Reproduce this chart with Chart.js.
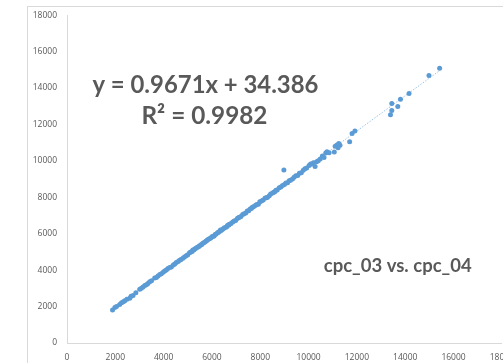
<!DOCTYPE html>
<html>
<head>
<meta charset="utf-8">
<script src="https://cdn.jsdelivr.net/npm/chart.js@4.4.1/dist/chart.umd.min.js"></script>
<style>
  html, body { margin: 0; padding: 0; background: #fff; overflow: hidden; }
  #wrap { position: relative; width: 503px; height: 363px; overflow: hidden; }
  #frame { position: absolute; left: 27px; top: 6px; width: 600px; height: 400px; border: 1px solid #d9d9d9; }
  #chart { position: absolute; left: 0; top: 0; }
</style>
</head>
<body>
<div id="wrap">
  <div id="frame"></div>
  <canvas id="chart" width="523" height="363"></canvas>
</div>
<script>
// ── Data ──────────────────────────────────────────
const cpc03 = [
  1885, 1980, 2050, 2180, 2256, 2330, 2392, 2480, 2598, 2650, 2734, 2850, 3011, 3080, 3147, 3220, 3287, 3350, 3423, 3500,
  3629, 3700, 3765, 3840, 3905, 3980, 4042, 4110, 4178, 4250, 4318, 4400, 4460, 4524, 4600, 4660, 4720, 4796, 4860, 4936,
  5000, 5073, 5120, 5180, 5209, 5260, 5300, 5349, 5400, 5450, 5485, 5530, 5580, 5621, 5680, 5720, 5761, 5800, 5850, 5897,
  5950, 6000, 6033, 6090, 6130, 6174, 6230, 6270, 6310, 6350, 6380, 6430, 6480, 6516, 6580, 6620, 6652, 6700, 6722, 6790,
  6858, 6920, 6980, 7050, 7093, 7135, 7200, 7271, 7330, 7400, 7460, 7520, 7580, 7630, 7671, 7720, 7794, 7850, 7920, 7980,
  8050, 8120, 8200, 8260, 8300, 8372, 8430, 8508, 8560, 8600, 8648, 8700, 8784, 8850, 8921, 8978, 9000, 9060, 9130, 9197,
  9250, 9333, 9400, 9472, 9550, 9620, 9700, 9780, 9850, 9920, 10021, 10080, 10140, 10200, 10269, 10330, 10400, 10480, 10570, 10640,
  10710, 10760, 10850, 11065, 11100, 11176, 11220, 11250, 11300, 11700, 11800, 11918,
  13390, 13444, 13444, 13692, 13803, 14158, 14983, 15424
];
const cpc04 = [
  1816, 1950, 2010, 2120, 2214, 2270, 2323, 2400, 2454, 2560, 2610, 2760, 2945, 3000, 3080, 3150, 3200, 3260, 3360, 3420,
  3569, 3600, 3680, 3760, 3800, 3880, 3950, 4010, 4090, 4150, 4178, 4280, 4340, 4420, 4480, 4543, 4580, 4650, 4720, 4790,
  4850, 4950, 4990, 5020, 5100, 5120, 5180, 5210, 5260, 5300, 5330, 5380, 5410, 5470, 5520, 5560, 5600, 5640, 5700, 5720,
  5760, 5830, 5850, 5880, 5950, 5990, 6050, 6080, 6120, 6200, 6170, 6230, 6290, 6320, 6350, 6400, 6460, 6480, 6520, 6560,
  6640, 6700, 6720, 6830, 6870, 6900, 6940, 7060, 7100, 7130, 7250, 7260, 7350, 7380, 7450, 7480, 7543, 7600, 7620, 7760,
  7800, 7850, 7960, 7980, 8000, 8090, 8180, 8230, 8280, 8300, 8380, 8400, 8520, 8560, 8650, 9490, 8700, 8781, 8800, 8906,
  8930, 8999, 9100, 9179, 9200, 9320, 9350, 9480, 9560, 9600, 9750, 9820, 9820, 9900, 9686, 9950, 10000, 10100, 10270, 10177,
  10430, 10500, 10450, 10488, 10800, 10870, 10720, 10950, 10850, 11050, 11500, 11633,
  12523, 12763, 13144, 12981, 13379, 13690, 14688, 15086
];

// Excel linear trendline shown on the chart
const slope = 0.9671;
const intercept = 34.386;
const trendX = [1885, 15424];

const xTicks = [0, 2000, 4000, 6000, 8000, 10000, 12000, 14000, 16000, 18000];

const TEXT = '#595959';
const tickFont = { family: 'Open Sans', size: 8.5 };

// ── Annotations plugin ────────────────────────────
const labelsPlugin = {
  id: 'labels',
  afterDatasetsDraw(chart) {
    const { ctx, scales: { x, y } } = chart;
    function fit(text, vx, vy, width, size) {
      ctx.save();
      ctx.font = 'bold ' + size + 'px Lato';
      ctx.fillStyle = TEXT;
      ctx.textAlign = 'center';
      ctx.textBaseline = 'middle';
      const w = ctx.measureText(text).width;
      const px = x.getPixelForValue(vx), py = y.getPixelForValue(vy);
      ctx.translate(px, py);
      ctx.scale(width / w, 1);
      ctx.fillText(text, 0, 0);
      ctx.restore();
    }
    fit('y = 0.9671x + 34.386', 5730, 14140, 226, 24);
    fit('R² = 0.9982', 5690, 12430, 126, 24);
    fit('cpc_03 vs. cpc_04', 13690, 4240, 148, 18);
  }
};

// ── Chart ─────────────────────────────────────────
const points = cpc03.map((v, i) => ({ x: v, y: cpc04[i] }));
const trend = trendX.map(v => ({ x: v, y: slope * v + intercept }));

new Chart(document.getElementById('chart'), {
  type: 'scatter',
  data: {
    datasets: [
      {
        data: trend,
        type: 'line',
        borderColor: '#9dc3e6',
        borderWidth: 1,
        borderDash: [1.5, 1.5],
        pointRadius: 0,
        fill: false,
        order: 2
      },
      {
        data: points,
        backgroundColor: '#5b9bd5',
        borderWidth: 0,
        pointRadius: 2.5,
        order: 1
      }
    ]
  },
  options: {
    responsive: false,
    animation: false,
    layout: { padding: { top: 13, right: 20, left: 0, bottom: 0 } },
    plugins: { legend: { display: false }, tooltip: { enabled: false } },
    scales: {
      x: {
        type: 'linear',
        min: 0,
        max: 18000,
        afterBuildTicks: s => { s.ticks = xTicks.map(v => ({ value: v })); },
        afterFit: s => { s.height = 20; },
        grid: { display: true, drawOnChartArea: false, drawTicks: false },
        border: { color: '#d9d9d9', width: 1 },
        ticks: { color: TEXT, font: tickFont, padding: 9, maxRotation: 0, autoSkip: false, callback: v => String(v) }
      },
      y: {
        type: 'linear',
        min: 0,
        max: 18000,
        afterFit: s => { s.width = 67; },
        grid: { display: true, drawOnChartArea: false, drawTicks: false },
        border: { color: '#d9d9d9', width: 1 },
        ticks: { color: TEXT, font: tickFont, padding: 10, stepSize: 2000, callback: v => String(v) }
      }
    }
  },
  plugins: [labelsPlugin]
});
</script>
</body>
</html>
